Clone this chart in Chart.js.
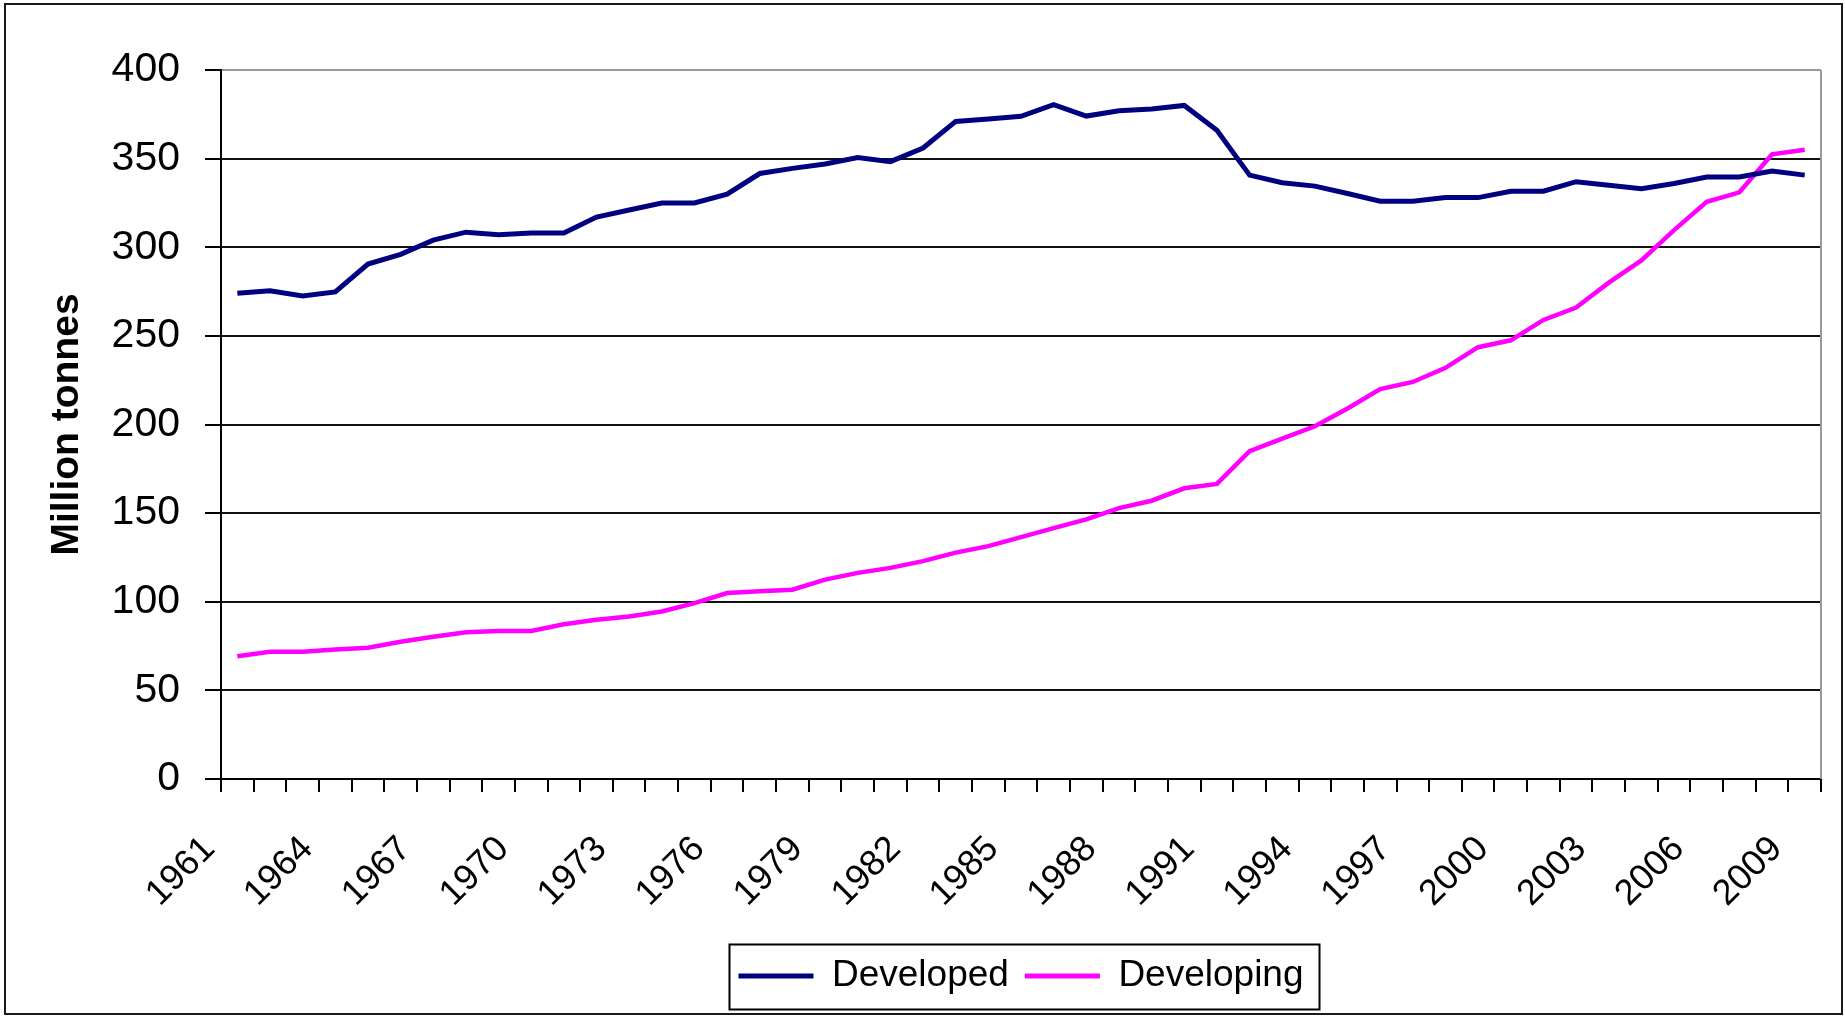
<!DOCTYPE html>
<html>
<head>
<meta charset="utf-8">
<script src="https://cdn.jsdelivr.net/npm/chart.js@4.4.1/dist/chart.umd.min.js"></script>
<style>
html,body{margin:0;padding:0;background:#fff;}
#wrap{position:absolute;left:0;top:0;width:1845px;height:1016px;}
#frame{position:absolute;left:4px;top:3px;width:1835px;height:1008px;border:2px solid #1a1a1a;pointer-events:none;}
</style>
</head>
<body>
<div id="wrap"><canvas id="c" width="1845" height="1016"></canvas></div>
<div id="frame"></div>
<script>
const years = ['1961','1962','1963','1964','1965','1966','1967','1968','1969','1970',
  '1971','1972','1973','1974','1975','1976','1977','1978','1979','1980',
  '1981','1982','1983','1984','1985','1986','1987','1988','1989','1990',
  '1991','1992','1993','1994','1995','1996','1997','1998','1999','2000',
  '2001','2002','2003','2004','2005','2006','2007','2008','2009'];

const shownYearLabels = ['1961','1964','1967','1970','1973','1976','1979','1982','1985',
  '1988','1991','1994','1997','2000','2003','2006','2009'];

const developed = [274, 275.4, 272.5, 274.8, 290.5, 296, 304, 308.5, 307, 308,
  308, 317, 321, 325, 325, 330, 341.6, 344.5, 347, 350.6,
  348.3, 356, 371, 372.3, 373.9, 380.5, 374, 377, 378, 380,
  366, 340.7, 336.4, 334.5, 330.3, 326, 326, 328, 328, 331.6,
  331.6, 337, 335, 333, 336, 339.6, 339.6, 343, 340.7];

const developing = [69.3, 71.8, 71.8, 73.1, 74.0, 77.4, 80.3, 82.8, 83.5, 83.5,
  87.3, 89.8, 91.7, 94.5, 99.2, 104.9, 105.9, 106.8, 112.5, 116.3,
  119.1, 122.9, 127.7, 131.4, 136.5, 141.5, 146.5, 152.8, 157, 164,
  166.5, 185, 192, 199, 209, 220, 224, 232, 243.6, 247.5,
  259, 266, 280, 292.6, 309.7, 325.6, 331, 352.4, 355];

const seriesNames = ['Developed', 'Developing'];
const yAxisTitle = 'Million tonnes';
const yMin = 0, yMax = 400, yStep = 50;

Chart.defaults.font.family = '"Liberation Sans", Arial, sans-serif';
Chart.defaults.color = '#000';

const plotFrame = {
  id: 'plotFrame',
  afterDraw(chart) {
    const ctx = chart.ctx, a = chart.chartArea;
    ctx.save();
    ctx.strokeStyle = '#9a9a9a';
    ctx.lineWidth = 2;
    ctx.beginPath();
    ctx.moveTo(a.right, a.top);
    ctx.lineTo(a.right, a.bottom);
    ctx.stroke();
    const boxes = chart.legend && chart.legend.legendHitBoxes;
    if (boxes && boxes.length) {
      const l = Math.min(...boxes.map(b => b.left));
      const r = Math.max(...boxes.map(b => b.left + b.width));
      const t = Math.min(...boxes.map(b => b.top));
      const bt = Math.max(...boxes.map(b => b.top + b.height));
      ctx.strokeStyle = '#000';
      ctx.lineWidth = 2;
      ctx.strokeRect(l - 9, t - 13, (r - l) + 9 + 16, (bt - t) + 13 + 15);
    }
    ctx.restore();
  }
};

new Chart(document.getElementById('c'), {
  type: 'line',
  data: {
    labels: years,
    datasets: [
      { label: seriesNames[0], data: developed, borderColor: '#000080', backgroundColor: '#000080',
        borderWidth: 5, pointRadius: 0, tension: 0, fill: false },
      { label: seriesNames[1], data: developing, borderColor: '#ff00ff', backgroundColor: '#ff00ff',
        borderWidth: 4.5, pointRadius: 0, tension: 0, fill: false }
    ]
  },
  options: {
    responsive: false,
    devicePixelRatio: 1,
    animation: false,
    layout: { padding: { left: 5, right: 24, top: 70, bottom: 11.5 } },
    plugins: {
      tooltip: { enabled: false },
      legend: {
        position: 'bottom',
        fullSize: false,
        labels: {
          boxWidth: 75, boxHeight: 5, padding: 16, color: '#000',
          font: { size: 37 },
          generateLabels(chart) {
            const items = Chart.defaults.plugins.legend.labels.generateLabels(chart);
            items.forEach(i => { i.lineWidth = 0; });
            return items;
          }
        }
      }
    },
    scales: {
      x: {
        offset: true,
        grid: { display: true, drawOnChartArea: false, drawTicks: true, tickLength: 13,
                color: '#000', lineWidth: 2, offset: true },
        border: { display: true, color: '#000', width: 2 },
        ticks: {
          autoSkip: false, maxRotation: 45, minRotation: 45, padding: 36, labelOffset: -28,
          font: { size: 36 }, color: '#000',
          callback: (v, i) => shownYearLabels.includes(years[i]) ? years[i] : ''
        },
        afterFit(scale) {
          scale.height = 162.5;
          scale.paddingLeft = 0;
          scale.paddingRight = 0;
        }
      },
      y: {
        min: yMin, max: yMax,
        grid: { color: (c) => (c.tick && c.tick.value === yMax) ? '#9a9a9a' : '#111',
                tickColor: '#000', lineWidth: 2, tickLength: 16, drawTicks: true },
        border: { display: true, color: '#000', width: 2 },
        ticks: { stepSize: yStep, padding: 25, font: { size: 41 }, color: '#000' },
        title: { display: true, text: yAxisTitle, color: '#000',
                 font: { size: 39, weight: 'bold' }, padding: { top: 39, bottom: 0 } },
        afterFit(scale) { scale.width = 216; }
      }
    }
  },
  plugins: [plotFrame]
});
</script>
</body>
</html>
